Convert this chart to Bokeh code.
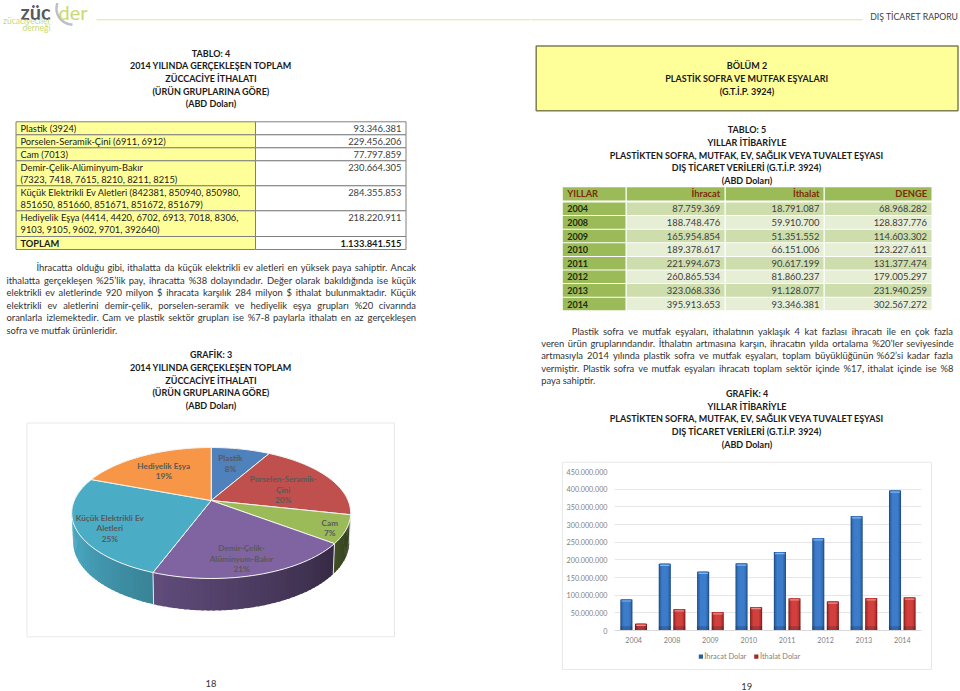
import math
from bokeh.plotting import figure
from bokeh.layouts import row, column
from bokeh.models import Range1d, FactorRange, FixedTicker
from bokeh.core.properties import value
from bokeh.transform import dodge
from bokeh.embed import file_html
from bokeh.resources import INLINE

FONT = "Lato"

# ---------- DATA ----------
title_t4 = ["TABLO: 4", "2014 YILINDA GERÇEKLEŞEN TOPLAM", "ZÜCCACİYE İTHALATI", "(ÜRÜN GRUPLARINA GÖRE)", "(ABD Doları)"]
title_g3 = ["GRAFİK: 3", "2014 YILINDA GERÇEKLEŞEN TOPLAM", "ZÜCCACİYE İTHALATI", "(ÜRÜN GRUPLARINA GÖRE)", "(ABD Doları)"]
t4_labels = [["Plastik (3924)"], ["Porselen-Seramik-Çini (6911, 6912)"], ["Cam (7013)"],
             ["Demir-Çelik-Alüminyum-Bakır", "(7323, 7418, 7615, 8210, 8211, 8215)"],
             ["Küçük Elektrikli Ev Aletleri (842381, 850940, 850980,", "851650, 851660, 851671, 851672, 851679)"],
             ["Hediyelik Eşya (4414, 4420, 6702, 6913, 7018, 8306,", "9103, 9105, 9602, 9701, 392640)"],
             ["TOPLAM"]]
t4_values = ["93.346.381", "229.456.206", "77.797.859", "230.664.305", "284.355.853", "218.220.911", "1.133.841.515"]
para_left = ["İhracatta olduğu gibi, ithalatta da küçük elektrikli ev aletleri en yüksek paya sahiptir. Ancak",
             "ithalatta gerçekleşen %25’lik pay, ihracatta %38 dolayındadır. Değer olarak bakıldığında ise küçük",
             "elektrikli ev aletlerinde 920 milyon $ ihracata karşılık 284 milyon $ ithalat bulunmaktadır. Küçük",
             "elektrikli ev aletlerini demir-çelik, porselen-seramik ve hediyelik eşya grupları %20 civarında",
             "oranlarla izlemektedir. Cam ve plastik sektör grupları ise %7-8 paylarla ithalatı en az gerçekleşen",
             "sofra ve mutfak ürünleridir."]
box_title = ["BÖLÜM 2", "PLASTİK SOFRA VE MUTFAK EŞYALARI", "(G.T.İ.P. 3924)"]
title_t5 = ["TABLO: 5", "YILLAR İTİBARİYLE", "PLASTİKTEN SOFRA, MUTFAK, EV, SAĞLIK VEYA TUVALET EŞYASI",
            "DIŞ TİCARET VERİLERİ (G.T.İ.P. 3924)", "(ABD Doları)"]
title_g4 = ["GRAFİK: 4"] + title_t5[1:]
t5_header = ["YILLAR", "İhracat", "İthalat", "DENGE"]
years = ["2004", "2008", "2009", "2010", "2011", "2012", "2013", "2014"]
ihracat_txt = ["87.759.369", "188.748.476", "165.954.854", "189.378.617", "221.994.673", "260.865.534", "323.068.336", "395.913.653"]
ithalat_txt = ["18.791.087", "59.910.700", "51.351.552", "66.151.006", "90.617.199", "81.860.237", "91.128.077", "93.346.381"]
denge_txt = ["68.968.282", "128.837.776", "114.603.302", "123.227.611", "131.377.474", "179.005.297", "231.940.259", "302.567.272"]
para_right = ["Plastik sofra ve mutfak eşyaları, ithalatının yaklaşık 4 kat fazlası ihracatı ile en çok fazla",
              "veren ürün gruplarındandır. İthalatın artmasına karşın, ihracatın yılda ortalama %20’ler seviyesinde",
              "artmasıyla 2014 yılında plastik sofra ve mutfak eşyaları, toplam büyüklüğünün %62’si kadar fazla",
              "vermiştir. Plastik sofra ve mutfak eşyaları ihracatı toplam sektör içinde %17, ithalat içinde ise %8",
              "paya sahiptir."]
pie_names = [["Plastik"], ["Porselen-Seramik-", "Çini"], ["Cam"], ["Demir-Çelik-", "Alüminyum-Bakır"], ["Küçük Elektrikli Ev", "Aletleri"], ["Hediyelik Eşya"]]
pie_pct = ["8%", "20%", "7%", "21%", "25%", "19%"]
pie_values = [93346381, 229456206, 77797859, 230664305, 284355853, 218220911]
pie_colors = ["#4F81BD", "#C0504D", "#9BBB59", "#8064A2", "#4BACC6", "#F79646"]
ihracat = [87759369, 188748476, 165954854, 189378617, 221994673, 260865534, 323068336, 395913653]
ithalat = [18791087, 59910700, 51351552, 66151006, 90617199, 81860237, 91128077, 93346381]
y_ticks = [0, 50e6, 100e6, 150e6, 200e6, 250e6, 300e6, 350e6, 400e6, 450e6]
y_tick_labels = ["0", "50.000.000", "100.000.000", "150.000.000", "200.000.000", "250.000.000", "300.000.000", "350.000.000", "400.000.000", "450.000.000"]
series_names = ["İhracat Dolar", "İthalat Dolar"]
header_right = "DIŞ TİCARET RAPORU"
page_left, page_right = "18", "19"

# ---------- HELPERS ----------
def page_fig(x0, x1, y0, y1):
    p = figure(width=x1 - x0, height=y1 - y0, x_range=Range1d(x0, x1), y_range=Range1d(y1, y0),
               output_backend="svg", toolbar_location=None, min_border=0, outline_line_color=None,
               x_axis_location=None, y_axis_location=None)
    p.grid.visible = False
    p.frame_align = False
    return p

def txt(p, x, y, s, size="9.4px", color="#262626", style="normal", align="left", font=FONT):
    p.text(x=[x], y=[y], text=[s], text_font=value(font), text_font_size=size, text_color=color,
           text_font_style=style, text_align=align, text_baseline="middle")

def lines(p, cx, ys, strs, size="9px", color="#1a1a1a", style="bold"):
    for y, s in zip(ys, strs):
        txt(p, cx, y, s, size=size, color=color, style=style, align="center")

EM = dict(a=.51, b=.56, c=.47, d=.56, e=.52, f=.33, g=.50, h=.55, i=.24, j=.24, k=.50, l=.24, m=.81, n=.55,
          o=.57, p=.56, r=.36, s=.43, t=.35, u=.55, v=.49, w=.76, y=.49, z=.46)
EM.update({"ı": .24, "ş": .43, "ç": .47, "ö": .57, "ü": .55, "ğ": .50, ".": .22, ",": .22, "%": .76, "$": .58,
           "’": .20, "-": .37, "İ": .27, "A": .65, "C": .65, "D": .74, "K": .63, "P": .58, "V": .66})

def est(word, size):
    return sum(EM.get(c, .58) for c in word) * size

def justified(p, x0, x1, y, s, size=9.4, just=True):
    if not just:
        txt(p, x0, y, s, size=f"{size}px", color="#333333")
        return
    words = s.split(" ")
    ws = [est(w, size) for w in words]
    gap = (x1 - x0 - sum(ws)) / (len(words) - 1)
    x = x0
    for w, wd in zip(words, ws):
        txt(p, x, y, w, size=f"{size}px", color="#333333")
        x += wd + gap

# ---------- LEFT, TOP ----------
L = page_fig(0, 530, 0, 421)
L.line(x=[96, 530], y=[19.3, 19.3], line_color="#dfe3a8", line_width=1)
arc_phi = [math.radians(160 + i * 5) for i in range(23)]
L.line([72 + 16 * math.cos(f) for f in arc_phi], [8 - 16 * math.sin(f) for f in arc_phi], line_color="#bcbfc3", line_width=2.5)
txt(L, 20, 11, "züc", size="20px", color="#58595b", style="bold")
txt(L, 58, 11, "der", size="20px", color="#c9da74")
txt(L, 50, 20, "zücaciyeciler", size="8.5px", color="#c9da74", align="right")
txt(L, 50, 27.5, "derneği", size="8.5px", color="#c9da74", align="right")

lines(L, 210.5, [52.7, 65.3, 78, 90.7, 103.2], title_t4)
row_y = [121.3, 134.3, 147.3, 160.3, 185.3, 210.3, 236, 249]
for i, labs in enumerate(t4_labels):
    top, bot = row_y[i], row_y[i + 1]
    L.quad(left=[15.5], right=[255], top=[top], bottom=[bot], fill_color="#FFFF99", line_color="#7f7f7f", line_width=1)
    L.quad(left=[255], right=[405.5], top=[top], bottom=[bot], fill_color="#ffffff", line_color="#7f7f7f", line_width=1)
    st = "bold" if labs[0] == "TOPLAM" else "normal"
    for j, s in enumerate(labs):
        txt(L, 20, top + 6.6 + j * 12.5, s, size="9.3px", color="#1a1a1a", style=st)
    txt(L, 401, top + 6.6, t4_values[i], size="9.4px", color="#1a1a1a" if st == "bold" else "#404040", style=st, align="right")
para_y = [267.3, 279.7, 292.3, 304.7, 317, 329.7]
for i, s in enumerate(para_left):
    justified(L, 36 if i == 0 else 6, 415.3, para_y[i], s, just=i < len(para_left) - 1)
lines(L, 210.5, [354.3, 367, 379.7, 392, 405], title_g3)

# ---------- PIE ----------
PIE = page_fig(0, 530, 421, 691)
PIE.quad(left=[26.5], right=[394], top=[422.5], bottom=[636.3], fill_color="#ffffff", line_color="#e8e8e8", line_width=1)
CX, CY, A, B, K = 210.7, 500.0, 136.9, 63.1, 0.191

def rim(theta):
    t = math.radians(theta)
    u, v = math.sin(t), math.cos(t)
    d = 1 + K * v
    return CX + A * u / d, CY - B * v / d

def wall(theta):
    x, y = rim(theta)
    v = math.cos(math.radians(theta))
    return CX + (x - CX) * 0.99, y + 28 - 4 * v

def shade(col, f):
    r, g, b = int(col[1:3], 16), int(col[3:5], 16), int(col[5:7], 16)
    return "#%02x%02x%02x" % (int(r * f), int(g * f), int(b * f))

total = sum(pie_values)
edges = [0.0]
for val in pie_values:
    edges.append(edges[-1] + val / total * 360)

for i in range(6):
    a0, a1 = max(edges[i], 101.0), min(edges[i + 1], 259.0)
    if a1 <= a0:
        continue
    n = int((a1 - a0) / 2) + 1
    for k in range(n):
        t0 = a0 + (a1 - a0) * k / n
        t1 = min(a0 + (a1 - a0) * (k + 1) / n + 0.8, a1)
        tm = (t0 + t1) / 2
        f = 0.30 + (tm - 101) / 99 * 0.46
        c = shade(pie_colors[i], min(f, 0.95))
        xs = [rim(t0)[0], rim(t1)[0], wall(t1)[0], wall(t0)[0]]
        ys = [rim(t0)[1], rim(t1)[1], wall(t1)[1], wall(t0)[1]]
        PIE.patch(xs, ys, fill_color=c, line_color=None)
for i in range(1, 6):
    if 101 < edges[i] < 259:
        PIE.line([rim(edges[i])[0], wall(edges[i])[0]], [rim(edges[i])[1], wall(edges[i])[1]], line_color="#e8e8f0", line_width=1)

for i in range(6):
    n = max(int((edges[i + 1] - edges[i]) / 2), 2)
    pts = [rim(edges[i] + (edges[i + 1] - edges[i]) * k / n) for k in range(n + 1)]
    PIE.patch([CX] + [q[0] for q in pts], [CY] + [q[1] for q in pts], fill_color=pie_colors[i],
              line_color="#f4f4f0", line_width=1)

label_pos = [(230, 457.7), (282.7, 478.7), (329.3, 522), (241, 547.7), (109.3, 517.3), (163.3, 465)]
for i, (lx, ly) in enumerate(label_pos):
    for j, s in enumerate(pie_names[i] + [pie_pct[i]]):
        txt(PIE, lx, ly + j * 10.4, s, size="8.2px", color="#595959", style="bold", align="center")
txt(PIE, 210.5, 683, page_left, size="9.4px", color="#333333", align="center")

# ---------- RIGHT, WHOLE COLUMN ----------
R = page_fig(530, 960, 0, 691)
R.line(x=[530, 862], y=[19.3, 19.3], line_color="#dfe3a8", line_width=1)
txt(R, 958, 16, header_right, size="8.7px", color="#404040", align="right")
R.quad(left=[535.7], right=[957.5], top=[45.5], bottom=[110.3], fill_color="#FFFF99", line_color="#7f7f50", line_width=1.5)
lines(R, 746.5, [65.3, 78, 90.7], box_title)
lines(R, 746.5, [129.3, 142, 154.7, 167.3, 179.7], title_t5)
cols = [(562.3, 625), (626.3, 724), (725.3, 823), (824.3, 931)]
R.quad(left=[c[0] for c in cols], right=[c[1] for c in cols], top=[186.7] * 4, bottom=[200] * 4, fill_color="#9BBB59", line_color=None)
hdr_red = "#7f2a0a"
txt(R, 566.7, 193.4, t5_header[0], size="9.3px", color=hdr_red, style="bold")
for c, h in zip([719.7, 819, 926.5], t5_header[1:]):
    txt(R, c, 193.4, h, size="9.3px", color=hdr_red, style="bold", align="right")
h_row = 13.6
for i, yr in enumerate(years):
    top = 202 + i * h_row
    bot = top + h_row - 1
    band = "#CDDDAC" if i % 2 == 0 else "#E6EED5"
    R.quad(left=[cols[0][0]], right=[cols[0][1]], top=[top], bottom=[bot], fill_color="#9BBB59", line_color=None)
    R.quad(left=[c[0] for c in cols[1:]], right=[c[1] for c in cols[1:]], top=[top] * 3, bottom=[bot] * 3, fill_color=band, line_color=None)
    my = top + 6.4
    txt(R, 566.7, my, yr, size="9px", color="#1f2d0a", style="bold")
    for c, s in zip([719.7, 819, 926.5], [ihracat_txt[i], ithalat_txt[i], denge_txt[i]]):
        txt(R, c, my, s, size="9.4px", color="#404040", align="right")
para_ry = [330.7, 343, 355.3, 367.7, 380]
for i, s in enumerate(para_right):
    justified(R, 571.3 if i == 0 else 540.7, 952.7, para_ry[i], s, just=i < len(para_right) - 1)
lines(R, 746.5, [392.7, 405.7, 418.3, 431.3, 444], title_g4)
# chart frame, legend and page number, under and around the bar figure
R.quad(left=[562], right=[931], top=[461.7], bottom=[669], fill_color="#ffffff", line_color="#e8e8e8", line_width=1)
R.quad(left=[698.3], right=[702.5], top=[654], bottom=[658.2], fill_color="#2a5f9f", line_color=None)
R.quad(left=[753.7], right=[757.9], top=[654], bottom=[658.2], fill_color="#a12a28", line_color=None)
txt(R, 703.8, 656.3, series_names[0], size="7.4px", color="#7f7f7f")
txt(R, 759.5, 656.3, series_names[1], size="7.4px", color="#7f7f7f")
txt(R, 746.3, 686, page_right, size="9.4px", color="#333333", align="center")

# ---------- BARS ----------
B_ = figure(width=367, height=187, x_range=FactorRange(factors=years, range_padding=0),
            y_range=Range1d(0, 450e6), output_backend="svg", toolbar_location=None,
            min_border_left=51, min_border_right=9, min_border_top=8, min_border_bottom=20,
            outline_line_color=None)
B_.frame_align = False
B_.styles = {"position": "absolute", "left": "33px", "top": "463px"}
B_.x_range.factor_padding = 0
B_.ygrid.grid_line_color = "#e6e6e6"
B_.xgrid.visible = False
B_.yaxis.ticker = FixedTicker(ticks=y_ticks)
B_.yaxis.major_label_overrides = {t: s for t, s in zip(y_ticks, y_tick_labels)}
B_.yaxis.axis_line_color = None
B_.xaxis.axis_line_color = "#d9d9d9"
for ax in (B_.xaxis, B_.yaxis):
    ax.major_tick_line_color = None
    ax.minor_tick_line_color = None
    ax.major_tick_out = 0
    ax.major_tick_in = 0
    ax.minor_tick_out = 0
    ax.major_label_text_color = "#7f7f7f"
    ax.major_label_text_font = FONT
    ax.major_label_text_font_size = "7.2px"
B_.yaxis.major_label_standoff = 7
B_.xaxis.major_label_standoff = 6

src = dict(x=years, ih=ihracat, it=ithalat,
           ih_cap0=[v - 6e6 for v in ihracat], ih_cap1=[v - 2.5e6 for v in ihracat],
           it_cap0=[v - 6e6 for v in ithalat], it_cap1=[v - 2.5e6 for v in ithalat])
W = 0.315
styles = {"ih": (-0.19, ["#1d4a80", "#2a5f9f", "#3470ba", "#3c7ccb"], "#7fb6ee"),
          "it": (0.19, ["#7e1c1c", "#a12a28", "#bf3634", "#d1403c"], "#ee8d88")}
for key, (off, shades, cap) in styles.items():
    xx = dodge("x", off, range=B_.x_range)
    for sh, fw in zip(shades, [1.0, 0.88, 0.74, 0.52]):
        B_.vbar(x=xx, top=key, bottom=0, width=W * fw, fill_color=sh, line_color=None, source=src)
    B_.vbar(x=xx, top=key + "_cap1", bottom=key + "_cap0", width=W * 0.8, fill_color=cap, line_color=None, source=src)
    B_.vbar(x=xx, top=12e6, bottom=0, width=W, fill_color="#101830", fill_alpha=0.22, line_color=None, source=src)

left = column(L, PIE, spacing=0)
right = column(R, B_, spacing=0)
page = row(left, right, spacing=0)
page.styles = {"position": "absolute", "left": "0px", "top": "0px"}

open("out.html", "w").write(file_html(page, INLINE))
